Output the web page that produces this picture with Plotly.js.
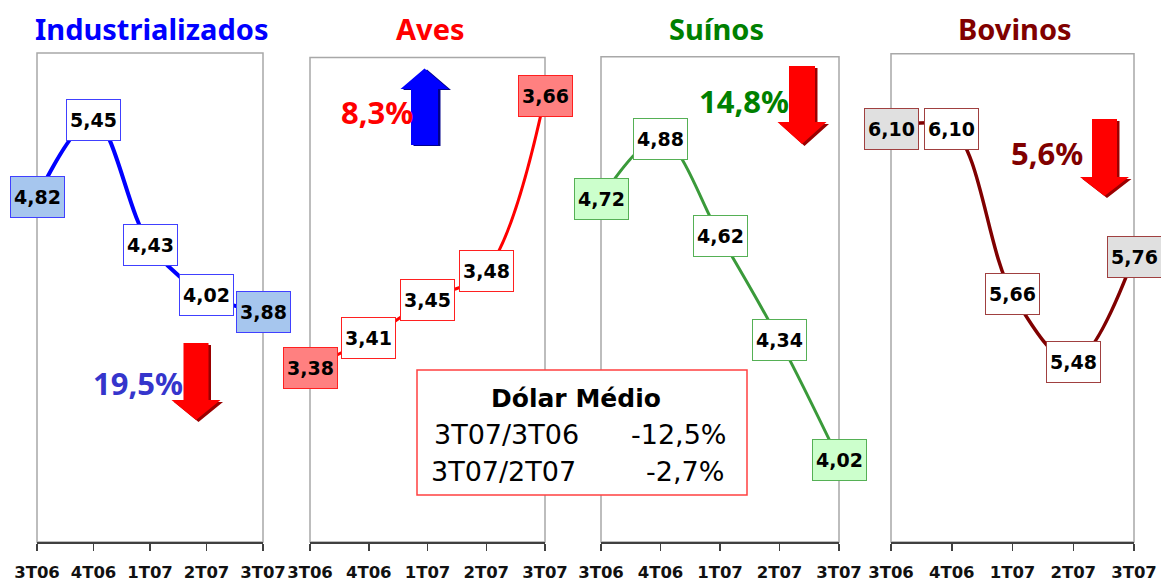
<!DOCTYPE html>
<html><head><meta charset="utf-8">
<script src="https://cdn.plot.ly/plotly-3.0.1.min.js"></script>
<style>html,body{margin:0;padding:0;background:#fff;} #chart{width:1161px;height:581px;}</style>
</head><body><div id="chart"></div>
<script>
// ---- data ----
const quarters = ['3T06', '4T06', '1T07', '2T07', '3T07'];
const industrializados = [4.82, 5.45, 4.43, 4.02, 3.88];
const aves = [3.38, 3.41, 3.45, 3.48, 3.66];
const suinos = [4.72, 4.88, 4.62, 4.34, 4.02];
const bovinos = [6.10, 6.10, 5.66, 5.48, 5.76];
const panelTitles = ['Industrializados', 'Aves', 'Suínos', 'Bovinos'];
const changes = ['19,5%', '8,3%', '14,8%', '5,6%'];
const directions = ['down', 'up', 'down', 'down'];
const dolarTitle = 'Dólar Médio';
const dolarRows = ['3T07/3T06', '3T07/2T07'];
const dolarValues = ['-12,5%', '-2,7%'];

// ---- layout helpers (pixels -> paper) ----
const W = 1161, H = 581;
const px = x => x / W;
const py = y => 1 - y / H;
const AXIS_Y = 542;

const seriesList = [industrializados, aves, suinos, bovinos];
const styles = [
  {xd: [37, 263], top: 53, yr: [2, 6], line: '#0000FF', lw: 4, border: '#4040FF', fillEnd: '#A6C6EE', titleColor: '#0000FF', tx: 151, pctColor: '#3535CC', pct: [138, 383],
   arrow: {cx: 196, sw: 25, hw: 49, a: 343, b: 400, c: 420, color: '#FF0000', shadow: '#9A0000'}},
  {xd: [310, 545], top: 57.4, yr: [3.2, 3.7], line: '#FF0000', lw: 3, border: '#FF2020', fillEnd: '#FF8080', titleColor: '#FF0000', tx: 430, pctColor: '#FF0000', pct: [377, 112],
   arrow: {cx: 424.5, sw: 27, hw: 48, a: 145, b: 89, c: 68.5, color: '#0000FF', shadow: '#00008A'}},
  {xd: [601, 839], top: 56.7, yr: [3.8, 5.1], line: '#3A9A3A', lw: 3, border: '#55B055', fillEnd: '#CCFFCC', titleColor: '#008000', tx: 716, pctColor: '#008000', pct: [744, 101],
   arrow: {cx: 802, sw: 26, hw: 49, a: 66, b: 122, c: 144, color: '#FF0000', shadow: '#9A0000'}},
  {xd: [891, 1134], top: 53.7, yr: [5.0, 6.3], line: '#800000', lw: 3.5, border: '#A04040', fillEnd: '#E0E0E0', titleColor: '#800000', tx: 1015, pctColor: '#800000', pct: [1047, 153],
   arrow: {cx: 1104.5, sw: 25, hw: 49, a: 119, b: 177, c: 196, color: '#FF0000', shadow: '#9A0000'}}
];

function arrowPath(ar, dx, dy) {
  // a = shaft end, b = head base, c = tip (pixel y); works for up and down
  const pts = [
    [ar.cx - ar.sw / 2, ar.a], [ar.cx - ar.sw / 2, ar.b], [ar.cx - ar.hw / 2, ar.b],
    [ar.cx, ar.c], [ar.cx + ar.hw / 2, ar.b], [ar.cx + ar.sw / 2, ar.b], [ar.cx + ar.sw / 2, ar.a]
  ];
  return 'M' + pts.map(p => px(p[0] + dx).toFixed(5) + ',' + py(p[1] + dy).toFixed(5)).join(' L') + ' Z';
}

const data = [];
const layout = {
  width: W, height: H,
  margin: {l: 0, r: 0, t: 0, b: 0, pad: 0},
  paper_bgcolor: '#ffffff', plot_bgcolor: 'rgba(0,0,0,0)',
  showlegend: false,
  annotations: [], shapes: []
};

const fmt = v => v.toFixed(2).replace('.', ',');

seriesList.forEach((vals, k) => {
  const st = styles[k];
  const s = k === 0 ? '' : String(k + 1);
  const xa = 'x' + s, ya = 'y' + s;
  const ov = String(k + 5);
  layout['xaxis' + s] = {
    domain: [px(st.xd[0]), px(st.xd[1])], anchor: ya, type: 'category',
    categoryarray: quarters, categoryorder: 'array', range: [0, 4],
    showline: true, linecolor: '#404040', linewidth: 1.5,
    ticks: 'outside', ticklen: 7, tickwidth: 1.5, tickcolor: '#404040',
    ticklabelstandoff: 8, tickangle: 0,
    tickfont: {family: 'DejaVu Sans', size: 16.5, color: '#111111', weight: 'bold'},
    showgrid: false, zeroline: false, fixedrange: true, automargin: false
  };
  layout['xaxis' + ov] = {
    domain: [px(st.xd[0]), px(st.xd[1])], anchor: ya, overlaying: xa, type: 'linear',
    range: [0, 4], tickvals: [0, 1, 2, 3, 4], ticks: 'inside', ticklen: 7, tickwidth: 1.5,
    tickcolor: '#404040', showticklabels: false, showline: false, showgrid: false, zeroline: false, fixedrange: true
  };
  layout['yaxis' + s] = {
    domain: [py(AXIS_Y), py(st.top)], anchor: xa, range: st.yr,
    showline: false, showticklabels: false, ticks: '', showgrid: false, zeroline: false, fixedrange: true
  };
  // panel frame
  layout.shapes.push({type: 'rect', xref: xa + ' domain', yref: ya + ' domain', x0: 0, x1: 1, y0: 0, y1: 1,
    line: {color: '#A8A8A8', width: 1.5}, fillcolor: 'rgba(0,0,0,0)', layer: 'below'});
  // line
  data.push({x: quarters, y: vals, xaxis: xa, yaxis: ya, type: 'scatter', mode: 'lines',
    line: {color: st.line, width: st.lw, shape: 'spline', smoothing: 1}, hoverinfo: 'skip', cliponaxis: false});
  // value labels
  vals.forEach((v, i) => {
    layout.annotations.push({xref: xa, yref: ya, x: quarters[i], y: v, text: fmt(v), showarrow: false,
      xanchor: 'center', yanchor: 'middle', width: 51, height: 38, borderpad: 1, borderwidth: 1,
      bordercolor: st.border, bgcolor: (i === 0 || i === vals.length - 1) ? st.fillEnd : '#ffffff',
      font: {family: 'DejaVu Sans', size: 19, color: '#000000', weight: 'bold'}});
  });
  // title
  layout.annotations.push({xref: 'paper', yref: 'paper', x: px(st.tx), y: py(28), text: panelTitles[k], showarrow: false,
    xanchor: 'center', yanchor: 'middle', font: {family: 'Noto Sans', size: 29, color: st.titleColor, weight: 'bold'}});
  // change %
  layout.annotations.push({xref: 'paper', yref: 'paper', x: px(st.pct[0]), y: py(st.pct[1]), text: changes[k], showarrow: false,
    xanchor: 'center', yanchor: 'middle', font: {family: 'Noto Sans', size: 31, color: st.pctColor, weight: 'bold'}});
  // arrow (shadow + body)
  const ar = st.arrow;
  layout.shapes.push({type: 'path', xref: 'paper', yref: 'paper', path: arrowPath(ar, 2.5, directions[k] === 'down' ? 2 : 1),
    fillcolor: ar.shadow, line: {width: 0}, layer: 'above'});
  layout.shapes.push({type: 'path', xref: 'paper', yref: 'paper', path: arrowPath(ar, 0, 0),
    fillcolor: ar.color, line: {width: 0}, layer: 'above'});
});

// Dólar Médio box
layout.shapes.push({type: 'rect', xref: 'paper', yref: 'paper', x0: px(417), x1: px(747), y0: py(495), y1: py(370),
  fillcolor: '#ffffff', line: {color: '#FF4040', width: 1.5}, layer: 'above'});
layout.annotations.push({xref: 'paper', yref: 'paper', x: px(576), y: py(398), text: dolarTitle, showarrow: false,
  xanchor: 'center', yanchor: 'middle', font: {family: 'DejaVu Sans', size: 25, color: '#000000', weight: 'bold'}});
dolarRows.forEach((r, i) => {
  const yy = [434, 471][i];
  layout.annotations.push({xref: 'paper', yref: 'paper', x: px([432, 429][i]), y: py(yy), text: r, showarrow: false,
    xanchor: 'left', yanchor: 'middle', font: {family: 'DejaVu Sans', size: 27, color: '#000000'}});
  layout.annotations.push({xref: 'paper', yref: 'paper', x: px([729, 726][i]), y: py(yy), text: dolarValues[i], showarrow: false,
    xanchor: 'right', yanchor: 'middle', font: {family: 'DejaVu Sans', size: 27, color: '#000000'}});
});

Plotly.newPlot('chart', data, layout, {staticPlot: true, displayModeBar: false});
</script>
</body></html>
